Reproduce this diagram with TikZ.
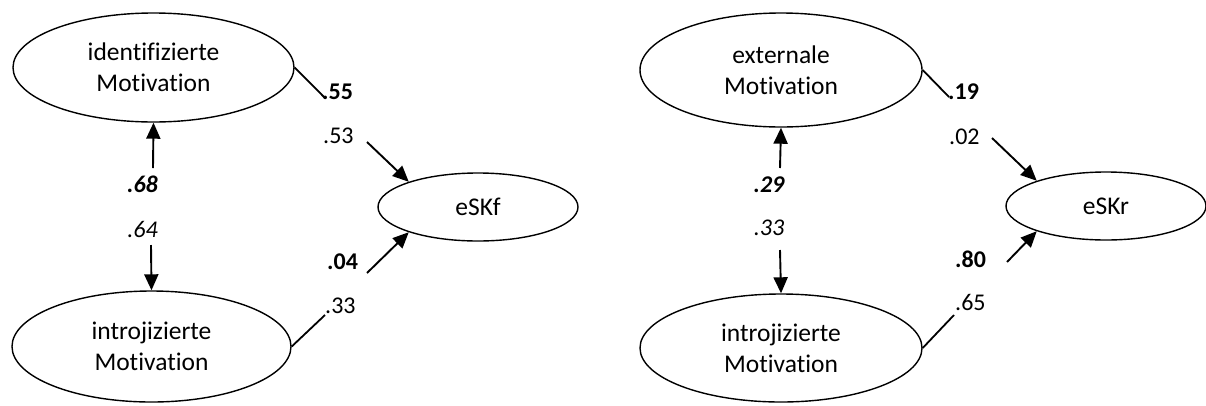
\documentclass[tikz,border=0pt]{standalone}
\usepackage{fontspec}
\setmainfont{Carlito}[Ligatures=NoCommon]
\usetikzlibrary{shapes.geometric,arrows.meta}
\begin{document}
\begin{tikzpicture}[x=1pt,y=-1pt,
  lat/.style={draw,ellipse,line width=1.4pt,inner sep=0pt,align=center,
    font=\fontsize{25.5}{31}\selectfont},
  lab/.style={inner sep=0pt,font=\fontsize{24}{29}\selectfont},
  arr/.style={line width=1.9pt,-{Triangle[length=16pt,width=14pt]}},
  ln/.style={line width=1.8pt}]
\useasboundingbox (0,0) rectangle (1206,405);
% left model
\node[lat,minimum width=281pt,minimum height=109pt] (L1) at (153.5,67.5) {identifizierte\\Motivation};
\node[lat,minimum width=279pt,minimum height=111pt] (L2) at (151.5,346.5) {introjizierte\\Motivation};
\node[lat,minimum width=200pt,minimum height=68pt] (LE) at (478,207) {eSKf};
\node[lab,anchor=base west] (l55) at (322,99) {\bfseries .55};
\node[lab,anchor=base west] (l53) at (323,143) {.53};
\node[lab,anchor=base] (l68) at (142.5,192) {\bfseries\itshape .68};
\node[lab,anchor=base] (l64) at (142.5,237) {\itshape .64};
\node[lab,anchor=base west] (l04) at (327,269) {\bfseries .04};
\node[lab,anchor=base west] (l33) at (325,313) {.33};
\coordinate (p55) at (325,98);
\coordinate (a53) at (367,142);
\coordinate (a68) at (153,168);
\coordinate (a64) at (151,245);
\coordinate (a04) at (367,273);
\coordinate (p33) at (325,315);
\draw[ln] (L1.east) -- (p55);
\draw[arr] (a53) -- (LE.160);
\draw[arr] (a68) -- (L1.south);
\draw[arr] (a64) -- (L2.north);
\draw[arr] (a04) -- (LE.200);
\draw[ln] (L2.east) -- (p33);
% right model
\node[lat,minimum width=282pt,minimum height=114pt] (R1) at (781,70) {externale\\Motivation};
\node[lat,minimum width=282pt,minimum height=108pt] (R2) at (781,348) {introjizierte\\Motivation};
\node[lat,minimum width=200pt,minimum height=68pt] (RE) at (1106,206) {eSKr};
\node[lab,anchor=base west] (l19) at (948,99) {\bfseries .19};
\node[lab,anchor=base west] (l02) at (949,144) {.02};
\node[lab,anchor=base] (l29) at (769,192) {\bfseries\itshape .29};
\node[lab,anchor=base] (l33r) at (769,235) {\itshape .33};
\node[lab,anchor=base west] (l80) at (955,267) {\bfseries .80};
\node[lab,anchor=base west] (l65) at (955,310) {.65};
\coordinate (p19) at (949,97);
\coordinate (a02) at (992,138);
\coordinate (a29) at (780,168);
\coordinate (a33) at (780,250);
\coordinate (a80) at (1007,262);
\coordinate (p65) at (954,315);
\draw[ln] (R1.east) -- (p19);
\draw[arr] (a02) -- (RE.160);
\draw[arr] (a29) -- (R1.south);
\draw[arr] (a33) -- (R2.north);
\draw[arr] (a80) -- (RE.200);
\draw[ln] (R2.east) -- (p65);
\end{tikzpicture}
\end{document}
